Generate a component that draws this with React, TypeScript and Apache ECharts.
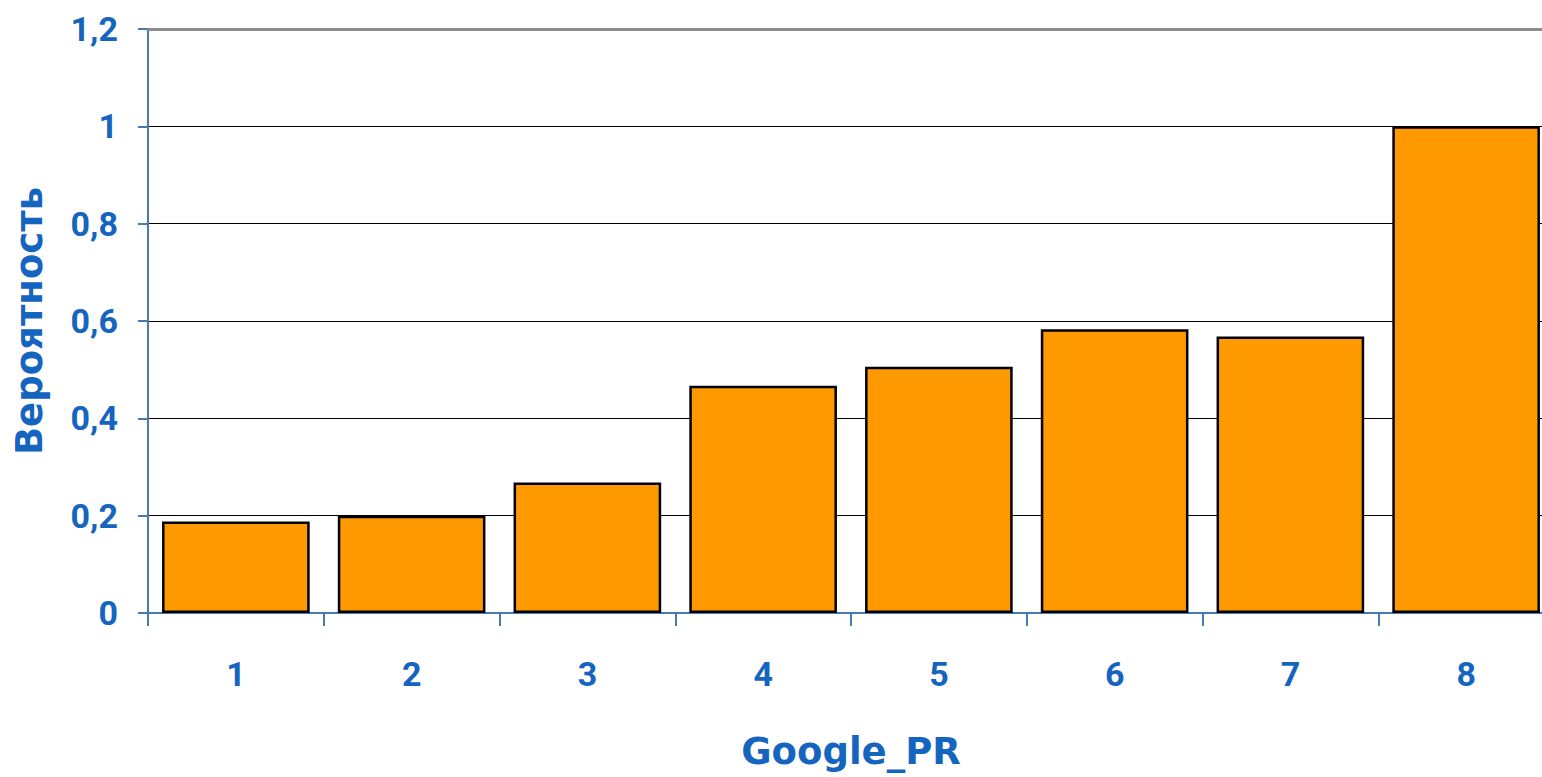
import React, { useEffect, useRef } from "react";
import * as echarts from "echarts";

const categories = ["1", "2", "3", "4", "5", "6", "7", "8"];
const probability = [0.188, 0.2, 0.268, 0.467, 0.506, 0.583, 0.568, 1.0];
const yTicks = { min: 0, max: 1.2, interval: 0.2 };
const xName = "Google_PR";
const yName = "Вероятность";

const BLUE = "#1565C0";
const AXIS_BLUE = "#4a78b0";

export default function App() {
  const ref = useRef<HTMLDivElement>(null);
  useEffect(() => {
    if (!ref.current) return;
    const chart = echarts.init(ref.current, null, { renderer: "svg" });
    chart.setOption({
      animation: false,
      backgroundColor: "#ffffff",
      grid: { left: 148, right: 6, top: 29, bottom: 164 },
      xAxis: [
        {
          type: "category",
          data: categories,
          position: "bottom",
          name: xName,
          nameLocation: "middle",
          nameGap: 120,
          nameTextStyle: {
            color: BLUE,
            fontFamily: "DejaVu Sans",
            fontWeight: "bold",
            fontSize: 37,
          },
          axisLine: { show: true, lineStyle: { color: AXIS_BLUE, width: 2 } },
          axisTick: { show: true, length: 13, lineStyle: { color: AXIS_BLUE, width: 2 } },
          axisLabel: {
            color: BLUE,
            fontFamily: "Roboto",
            fontWeight: "bold",
            fontSize: 34,
            margin: 44,
          },
          splitLine: { show: false },
        },
        {
          type: "category",
          data: categories,
          position: "top",
          axisLine: { show: true, lineStyle: { color: "#8c8c8c", width: 3 } },
          axisTick: { show: false },
          axisLabel: { show: false },
          splitLine: { show: false },
        },
      ],
      yAxis: {
        type: "value",
        min: yTicks.min,
        max: yTicks.max,
        interval: yTicks.interval,
        name: yName,
        nameLocation: "middle",
        nameGap: 100,
        nameRotate: 90,
        nameTextStyle: {
          color: BLUE,
          fontFamily: "DejaVu Sans",
          fontWeight: "bold",
          fontSize: 37,
        },
        axisLine: { show: true, lineStyle: { color: AXIS_BLUE, width: 2 } },
        axisTick: { show: true, length: 10, lineStyle: { color: AXIS_BLUE, width: 2 } },
        axisLabel: {
          color: BLUE,
          fontFamily: "Roboto",
          fontWeight: "bold",
          fontSize: 34,
          margin: 30,
          formatter: (v: number) => String(Math.round(v * 10) / 10).replace(".", ","),
        },
        splitLine: { show: true, lineStyle: { color: "#000000", width: 1.2 } },
      },
      series: [
        {
          type: "bar",
          data: probability,
          barCategoryGap: "16%",
          itemStyle: {
            color: "#FF9900",
            borderColor: "#000000",
            borderWidth: 2.5,
          },
        },
      ],
    });
    return () => chart.dispose();
  }, []);
  return (
    <div
      style={{
        position: "fixed",
        left: 0,
        top: 0,
        width: 1542,
        height: 777,
        overflow: "hidden",
        background: "#ffffff",
      }}
    >
      <div ref={ref} style={{ width: 1560, height: 777 }} />
    </div>
  );
}
